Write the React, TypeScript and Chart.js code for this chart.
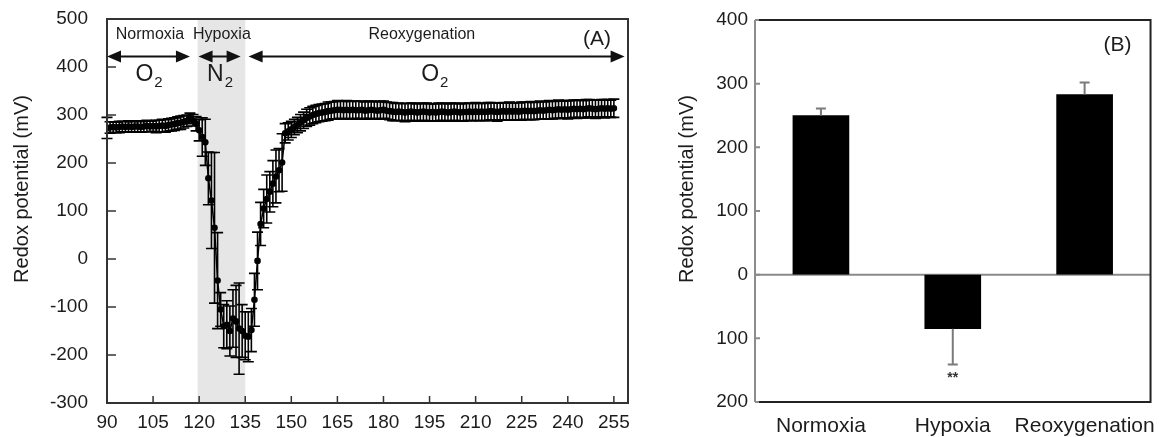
import React, { useEffect, useRef } from "react";
import { Chart, registerables } from "chart.js";

Chart.register(...registerables);

const FONT = "'Liberation Sans', Arial, Helvetica, sans-serif";
const TEXT = "#1c1c1c";

// ---------- Panel A data (time in min, redox potential in mV) ----------
const timeMin = [
  90, 91, 92, 93, 94, 95, 96, 97, 98, 99,
  100, 101, 102, 103, 104, 105, 106, 107, 108, 109,
  110, 111, 112, 113, 114, 115, 116, 117, 118, 119,
  120, 121, 122, 123, 124, 125, 126, 127, 128, 129,
  130, 131, 132, 133, 134, 135, 136, 137, 138, 139,
  140, 141, 142, 143, 144, 145, 146, 147, 148, 149,
  150, 151, 152, 153, 154, 155, 156, 157, 158, 159,
  160, 161, 162, 163, 164, 165, 166, 167, 168, 169,
  170, 171, 172, 173, 174, 175, 176, 177, 178, 179,
  180, 181, 182, 183, 184, 185, 186, 187, 188, 189,
  190, 191, 192, 193, 194, 195, 196, 197, 198, 199,
  200, 201, 202, 203, 204, 205, 206, 207, 208, 209,
  210, 211, 212, 213, 214, 215, 216, 217, 218, 219,
  220, 221, 222, 223, 224, 225, 226, 227, 228, 229,
  230, 231, 232, 233, 234, 235, 236, 237, 238, 239,
  240, 241, 242, 243, 244, 245, 246, 247, 248, 249,
  250, 251, 252, 253, 254, 255,
];

const redoxMean = [
  273, 274, 275, 274, 275, 276, 275, 276, 275, 276,
  276, 275, 276, 277, 276, 277, 276, 277, 278, 277,
  279, 280, 281, 283, 284, 286, 288, 293, 289, 282,
  268, 254, 243, 168, 122, 65, -45, -105, -140, -137,
  -150, -124, -130, -145, -150, -160, -162, -148, -85, -4,
  73, 105, 125, 140, 157, 172, 185, 201, 262, 266,
  270, 275, 279, 284, 289, 294, 297, 300, 302, 304,
  305, 306, 308, 309, 310, 311, 311, 310, 311, 310,
  311, 310, 310, 311, 309, 310, 311, 310, 309, 310,
  311, 309, 308, 307, 306, 307, 306, 305, 306, 307,
  306, 305, 306, 307, 306, 305, 306, 305, 306, 307,
  306, 305, 306, 307, 306, 305, 306, 306, 307, 306,
  307, 306, 307, 306, 307, 308, 307, 306, 307, 308,
  307, 308, 307, 308, 307, 308, 309, 308, 309, 308,
  309, 310, 309, 310, 311, 310, 311, 312, 311, 312,
  311, 312, 313, 312, 313, 312, 313, 314, 313, 312,
  313, 314, 313, 314, 313, 314,
];

const redoxSD = [
  22, 12, 11, 11, 12, 11, 11, 12, 11, 11,
  12, 11, 11, 12, 11, 11, 13, 12, 13, 13,
  13, 13, 13, 13, 14, 13, 12, 11, 12, 15,
  22, 40, 48, 55, 100, 157, 100, 35, 45, 50,
  52, 60, 75, 95, 55, 50, 52, 45, 55, 60,
  45, 40, 50, 42, 48, 55, 45, 60, 20, 18,
  17, 16, 16, 17, 17, 18, 18, 18, 18, 18,
  18, 18, 19, 18, 18, 19, 18, 18, 19, 18,
  18, 19, 18, 18, 18, 19, 18, 18, 18, 19,
  18, 18, 18, 19, 18, 18, 18, 19, 18, 18,
  19, 18, 18, 18, 19, 18, 18, 18, 19, 18,
  18, 18, 19, 18, 18, 18, 19, 18, 18, 18,
  19, 18, 18, 18, 19, 18, 18, 19, 18, 18,
  18, 19, 18, 18, 18, 19, 18, 18, 19, 18,
  18, 19, 18, 18, 19, 18, 18, 19, 18, 18,
  19, 18, 18, 19, 18, 18, 19, 18, 18, 19,
  18, 18, 19, 18, 18, 19,
];

const xTickValuesA = [90, 105, 120, 135, 150, 165, 180, 195, 210, 225, 240, 255];
const yTickValuesA = [-300, -200, -100, 0, 100, 200, 300, 400, 500];

const hypoxiaBand = [119.5, 135];
const phaseNames = ["Normoxia", "Hypoxia", "Reoxygenation"];
const phaseNameX = [104, 127.4, 192.5];
const gasNames = ["O", "N", "O"];
const gasX = [103.7, 126.8, 196.7];
const arrowStart = [90, 119.8, 136.1];
const arrowEnd = [117, 133.5, 258.5];
const arrowLeftHead = [true, true, true];
const arrowRightHead = [true, true, true];

// ---------- Panel B data ----------
const barCategories = ["Normoxia", "Hypoxia", "Reoxygenation"];
const barMeans = [250, -85, 283];
const barErrors = [11, 56, 19];
const yTickValuesB = [-200, -100, 0, 100, 200, 300, 400];
const yTickLabelsB = ["200", "100", "0", "100", "200", "300", "400"];

function drawArrowHead(ctx: CanvasRenderingContext2D, tipX: number, y: number, dir: number) {
  const len = 14;
  const half = 6;
  ctx.beginPath();
  ctx.moveTo(tipX, y);
  ctx.lineTo(tipX - dir * len, y - half);
  ctx.lineTo(tipX - dir * len, y + half);
  ctx.closePath();
  ctx.fill();
}

function drawVerticalTitle(ctx: CanvasRenderingContext2D, text: string, x: number, y: number) {
  ctx.save();
  ctx.translate(x, y);
  ctx.rotate(-Math.PI / 2);
  ctx.font = `20px ${FONT}`;
  ctx.fillStyle = TEXT;
  ctx.textAlign = "center";
  ctx.textBaseline = "middle";
  ctx.fillText(text, 0, 0);
  ctx.restore();
}

const panelAPlugin = {
  id: "panelA",
  beforeDatasetsDraw(chart: any) {
    const { ctx, chartArea } = chart;
    const xs = chart.scales.x;
    const ys = chart.scales.y;
    ctx.save();
    // hypoxia shading
    const x0 = xs.getPixelForValue(hypoxiaBand[0]);
    const x1 = xs.getPixelForValue(hypoxiaBand[1]);
    ctx.fillStyle = "#e6e6e6";
    ctx.fillRect(x0, chartArea.top, x1 - x0, chartArea.bottom - chartArea.top);
    // error bars
    ctx.strokeStyle = "#000";
    ctx.lineWidth = 1.6;
    for (let i = 0; i < timeMin.length; i++) {
      const px = xs.getPixelForValue(timeMin[i]);
      const yt = ys.getPixelForValue(redoxMean[i] + redoxSD[i]);
      const yb = ys.getPixelForValue(redoxMean[i] - redoxSD[i]);
      ctx.beginPath();
      ctx.moveTo(px, yt);
      ctx.lineTo(px, yb);
      ctx.moveTo(px - 5.5, yt);
      ctx.lineTo(px + 5.5, yt);
      ctx.moveTo(px - 5.5, yb);
      ctx.lineTo(px + 5.5, yb);
      ctx.stroke();
    }
    ctx.restore();
  },
  afterDraw(chart: any) {
    const { ctx, chartArea } = chart;
    const xs = chart.scales.x;
    const ys = chart.scales.y;
    ctx.save();
    // frame
    ctx.strokeStyle = "#333";
    ctx.lineWidth = 2;
    ctx.strokeRect(chartArea.left, chartArea.top, chartArea.right - chartArea.left, chartArea.bottom - chartArea.top);
    // inward ticks
    ctx.lineWidth = 1.5;
    ctx.beginPath();
    for (const v of yTickValuesA) {
      const py = ys.getPixelForValue(v);
      ctx.moveTo(chartArea.left, py);
      ctx.lineTo(chartArea.left + 9, py);
    }
    for (const v of xTickValuesA) {
      const px = xs.getPixelForValue(v);
      ctx.moveTo(px, chartArea.bottom);
      ctx.lineTo(px, chartArea.bottom - 7);
    }
    ctx.stroke();
    // arrows
    ctx.strokeStyle = "#111";
    ctx.fillStyle = "#111";
    ctx.lineWidth = 2;
    const ay = ys.getPixelForValue(422);
    for (let i = 0; i < arrowStart.length; i++) {
      const a = xs.getPixelForValue(arrowStart[i]);
      const b = xs.getPixelForValue(arrowEnd[i]);
      ctx.beginPath();
      ctx.moveTo(a + 4, ay);
      ctx.lineTo(b - 4, ay);
      ctx.stroke();
      if (arrowLeftHead[i]) drawArrowHead(ctx, a, ay, -1);
      if (arrowRightHead[i]) drawArrowHead(ctx, b, ay, 1);
    }
    // phase names
    ctx.fillStyle = TEXT;
    ctx.font = `16px ${FONT}`;
    ctx.textAlign = "center";
    ctx.textBaseline = "middle";
    const py = ys.getPixelForValue(468);
    for (let i = 0; i < phaseNames.length; i++) {
      ctx.fillText(phaseNames[i], xs.getPixelForValue(phaseNameX[i]), py);
    }
    // gas labels with subscript 2
    const gy = ys.getPixelForValue(384);
    for (let i = 0; i < gasNames.length; i++) {
      ctx.font = `23px ${FONT}`;
      const w1 = ctx.measureText(gasNames[i]).width;
      ctx.font = `15px ${FONT}`;
      const w2 = ctx.measureText("2").width;
      const cx = xs.getPixelForValue(gasX[i]);
      const left = cx - (w1 + w2 + 1) / 2;
      ctx.textAlign = "left";
      ctx.font = `23px ${FONT}`;
      ctx.fillText(gasNames[i], left, gy);
      ctx.font = `15px ${FONT}`;
      ctx.fillText("2", left + w1 + 1, gy + 8);
    }
    // panel tag
    ctx.textAlign = "center";
    ctx.font = `21px ${FONT}`;
    ctx.fillText("(A)", xs.getPixelForValue(249.5), ys.getPixelForValue(457));
    ctx.restore();
    drawVerticalTitle(ctx, "Redox potential (mV)", 22, 189);
  },
};

const panelBPlugin = {
  id: "panelB",
  beforeDatasetsDraw(chart: any) {
    const { ctx, chartArea } = chart;
    const ys = chart.scales.y;
    ctx.save();
    ctx.strokeStyle = "#8a8a8a";
    ctx.lineWidth = 2;
    const zy = ys.getPixelForValue(0);
    ctx.beginPath();
    ctx.moveTo(chartArea.left, zy);
    ctx.lineTo(chartArea.right, zy);
    ctx.stroke();
    ctx.restore();
  },
  afterDatasetsDraw(chart: any) {
    const { ctx } = chart;
    const ys = chart.scales.y;
    const meta = chart.getDatasetMeta(0);
    ctx.save();
    ctx.strokeStyle = "#7a7a7a";
    ctx.lineWidth = 2;
    meta.data.forEach((bar: any, i: number) => {
      const v = barMeans[i];
      const end = v >= 0 ? v + barErrors[i] : v - barErrors[i];
      const y0 = ys.getPixelForValue(v);
      const y1 = ys.getPixelForValue(end);
      ctx.beginPath();
      ctx.moveTo(bar.x, y0);
      ctx.lineTo(bar.x, y1);
      ctx.moveTo(bar.x - 5, y1);
      ctx.lineTo(bar.x + 5, y1);
      ctx.stroke();
    });
    // significance mark
    const hyp = meta.data[1];
    ctx.fillStyle = "#333";
    ctx.font = `bold 14px ${FONT}`;
    ctx.textAlign = "center";
    ctx.textBaseline = "middle";
    ctx.fillText("**", hyp.x, ys.getPixelForValue(-163));
    ctx.restore();
  },
  afterDraw(chart: any) {
    const { ctx, chartArea } = chart;
    const ys = chart.scales.y;
    ctx.save();
    ctx.lineWidth = 2;
    // left axis (grey)
    ctx.strokeStyle = "#8c8c8c";
    ctx.beginPath();
    ctx.moveTo(chartArea.left, chartArea.top);
    ctx.lineTo(chartArea.left, chartArea.bottom);
    ctx.stroke();
    // inward ticks
    ctx.beginPath();
    for (const v of yTickValuesB) {
      const py = ys.getPixelForValue(v);
      ctx.moveTo(chartArea.left, py);
      ctx.lineTo(chartArea.left + 5, py);
    }
    ctx.stroke();
    // top / right / bottom frame
    ctx.strokeStyle = "#222";
    ctx.beginPath();
    ctx.moveTo(chartArea.left + 4, chartArea.top);
    ctx.lineTo(chartArea.right, chartArea.top);
    ctx.lineTo(chartArea.right, chartArea.bottom);
    ctx.lineTo(chartArea.left + 4, chartArea.bottom);
    ctx.stroke();
    // panel tag
    ctx.fillStyle = TEXT;
    ctx.font = `21px ${FONT}`;
    ctx.textAlign = "center";
    ctx.textBaseline = "middle";
    ctx.fillText("(B)", chartArea.right - 33, ys.getPixelForValue(361));
    ctx.restore();
    drawVerticalTitle(ctx, "Redox potential (mV)", 47, 189);
  },
};

export default function App() {
  const leftRef = useRef<HTMLCanvasElement | null>(null);
  const rightRef = useRef<HTMLCanvasElement | null>(null);

  useEffect(() => {
    const left = new Chart(leftRef.current as HTMLCanvasElement, {
      type: "line",
      data: {
        datasets: [
          {
            data: timeMin.map((t, i) => ({ x: t, y: redoxMean[i] })),
            borderColor: "#000",
            backgroundColor: "#000",
            borderWidth: 1.5,
            pointRadius: 3.3,
            pointBackgroundColor: "#000",
            pointBorderWidth: 0,
            tension: 0,
          },
        ],
      },
      options: {
        animation: false,
        responsive: false,
        devicePixelRatio: 1,
        layout: { padding: { top: 19, right: 12, bottom: 0, left: 0 } },
        plugins: { legend: { display: false }, tooltip: { enabled: false } },
        scales: {
          x: {
            type: "linear",
            min: 90,
            max: 259.6,
            grid: { display: false, drawTicks: false },
            border: { display: false },
            afterBuildTicks: (s: any) => {
              s.ticks = xTickValuesA.map((v) => ({ value: v }));
            },
            afterFit: (s: any) => {
              s.height = 34;
            },
            ticks: {
              padding: 8,
              maxRotation: 0,
              autoSkip: false,
              color: TEXT,
              font: { family: FONT, size: 19 },
            },
          },
          y: {
            min: -300,
            max: 500,
            grid: {
              display: true,
              drawOnChartArea: false,
              drawTicks: true,
              tickLength: 19,
              tickColor: "rgba(0,0,0,0)",
            },
            border: { display: false },
            afterBuildTicks: (s: any) => {
              s.ticks = yTickValuesA.map((v) => ({ value: v }));
            },
            afterFit: (s: any) => {
              s.width = 107;
            },
            ticks: {
              padding: 0,
              color: TEXT,
              font: { family: FONT, size: 19 },
            },
          },
        },
      },
      plugins: [panelAPlugin],
    } as any);

    const right = new Chart(rightRef.current as HTMLCanvasElement, {
      type: "bar",
      data: {
        labels: barCategories,
        datasets: [
          {
            data: barMeans,
            backgroundColor: "#000",
            borderWidth: 0,
            barThickness: 56,
          },
        ],
      },
      options: {
        animation: false,
        responsive: false,
        devicePixelRatio: 1,
        layout: { padding: { top: 20, right: 8, bottom: 0, left: 0 } },
        plugins: { legend: { display: false }, tooltip: { enabled: false } },
        scales: {
          x: {
            grid: { display: false, drawTicks: false },
            border: { display: false },
            afterFit: (s: any) => {
              s.height = 35;
            },
            ticks: {
              padding: 12,
              maxRotation: 0,
              autoSkip: false,
              color: TEXT,
              font: { family: FONT, size: 21 },
            },
          },
          y: {
            min: -200,
            max: 400,
            grid: {
              display: true,
              drawOnChartArea: false,
              drawTicks: true,
              tickLength: 7,
              tickColor: "rgba(0,0,0,0)",
            },
            border: { display: false },
            afterBuildTicks: (s: any) => {
              s.ticks = yTickValuesB.map((v) => ({ value: v }));
            },
            afterFit: (s: any) => {
              s.width = 115;
            },
            ticks: {
              padding: 0,
              color: TEXT,
              font: { family: FONT, size: 19 },
              callback: (value: any) => {
                const idx = yTickValuesB.indexOf(Number(value));
                return idx >= 0 ? yTickLabelsB[idx] : "";
              },
            },
          },
        },
      },
      plugins: [panelBPlugin],
    } as any);

    return () => {
      left.destroy();
      right.destroy();
    };
  }, []);

  return (
    <div
      style={{
        position: "absolute",
        left: 0,
        top: 0,
        width: 1168,
        height: 437,
        background: "#fff",
        overflow: "hidden",
      }}
    >
      <canvas ref={leftRef} width={640} height={437} style={{ position: "absolute", left: 0, top: 0 }} />
      <canvas ref={rightRef} width={528} height={437} style={{ position: "absolute", left: 640, top: 0 }} />
    </div>
  );
}
